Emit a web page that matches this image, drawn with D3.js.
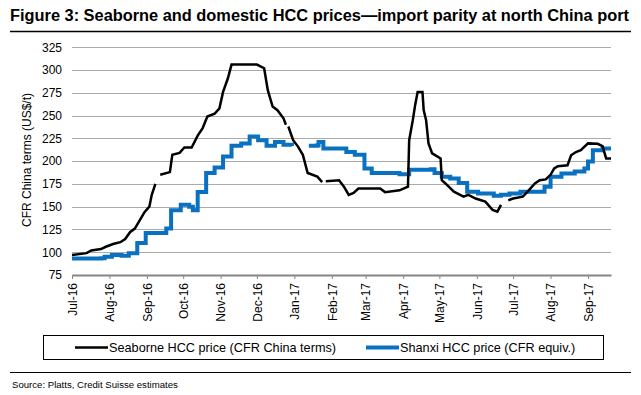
<!DOCTYPE html>
<html>
<head>
<meta charset="utf-8">
<script src="https://cdn.jsdelivr.net/npm/d3@7"></script>
<style>
  body { margin: 0; background: #fff; }
  text { font-family: "Liberation Sans", Arial, sans-serif; }
</style>
</head>
<body>
<script>
// seaborne HCC price (CFR China terms), null = gap in the series
var seaborneDates = ["2016-07-01","2016-07-13","2016-07-17","2016-07-25","2016-07-29","2016-08-04","2016-08-10","2016-08-14","2016-08-18","2016-08-22","2016-08-26","2016-08-30","2016-09-03","2016-09-05","2016-09-08","2016-09-10","2016-09-12","2016-09-20","2016-09-22","2016-09-28","2016-10-02","2016-10-08","2016-10-13","2016-10-17","2016-10-21","2016-10-27","2016-10-31","2016-11-03","2016-11-07","2016-11-10","2016-11-24","2016-12-01","2016-12-07","2016-12-10","2016-12-14","2016-12-18","2016-12-23","2016-12-25","2016-12-26","2016-12-27","2016-12-31","2017-01-04","2017-01-08","2017-01-12","2017-01-20","2017-01-24","2017-01-25","2017-01-27","2017-02-07","2017-02-11","2017-02-15","2017-02-19","2017-02-23","2017-03-13","2017-03-17","2017-03-29","2017-04-05","2017-04-06","2017-04-09","2017-04-11","2017-04-13","2017-04-17","2017-04-18","2017-04-20","2017-04-22","2017-04-25","2017-05-02","2017-05-03","2017-05-06","2017-05-13","2017-05-21","2017-05-25","2017-05-31","2017-06-08","2017-06-14","2017-06-18","2017-06-21","2017-06-23","2017-06-27","2017-07-01","2017-07-09","2017-07-13","2017-07-19","2017-07-23","2017-07-28","2017-08-01","2017-08-04","2017-08-07","2017-08-15","2017-08-18","2017-08-22","2017-08-26","2017-09-01","2017-09-09","2017-09-13","2017-09-16","2017-09-20"];
var seaborneValues = [97,99,102,103.5,106,109,111,114.5,122,126,135,144,150,163,175,null,185,188,207,209,215,215,228,236,249,252,258,276,291,306,306,306,302,278,260,256,247,240,null,238,223,216,207,187,183,177,null,178,179,172,163,165,170,170,166,168,172,223,245,262,276,276,256,245,219.5,208.5,203,179,175.5,166.5,161,163,159,155.5,146.5,144.5,152,null,157,159,161,166.5,175.5,179,180,185,192,194.5,195.5,206.5,210,212,219.5,219,216.5,203,203];

// Shanxi HCC price (CFR equiv.), weekly steps
var shanxiDates = ["2016-07-01","2016-07-25","2016-07-28","2016-08-03","2016-08-11","2016-08-17","2016-08-24","2016-08-31","2016-09-15","2016-09-17","2016-09-21","2016-09-29","2016-10-06","2016-10-09","2016-10-13","2016-10-20","2016-10-27","2016-11-03","2016-11-10","2016-11-18","2016-11-25","2016-12-02","2016-12-09","2016-12-16","2016-12-23","2016-12-30","2017-01-02","2017-01-05","2017-01-11","2017-01-13","2017-01-20","2017-01-21","2017-01-25","2017-02-05","2017-02-13","2017-02-20","2017-02-28","2017-03-06","2017-03-29","2017-04-06","2017-04-24","2017-04-27","2017-05-03","2017-05-10","2017-05-17","2017-05-24","2017-06-02","2017-06-15","2017-06-21","2017-06-28","2017-07-07","2017-07-27","2017-08-01","2017-08-10","2017-08-21","2017-08-29","2017-09-01","2017-09-05","2017-09-13","2017-09-20"];
var shanxiValues = [93,93.5,95,97,96,99,110,121,121,126,146,152,150,146,166,187,193,205,217,219.5,227,223,217,221,218,216.5,null,216.5,null,217,217.5,221,214,214,210,207,192,187,185.5,190.5,191,187,183,181,176,166.5,164.5,162,163,164.5,166.5,172,183,186.5,188.5,192,199.5,212,214,214];

var yTicks = [75,100,125,150,175,200,225,250,275,300,325];

var parse = d3.timeParse("%Y-%m-%d");
var seaborne = seaborneDates.map(function(d, i){ return {date: parse(d), v: seaborneValues[i]}; });
var shanxi = shanxiDates.map(function(d, i){ return {date: parse(d), v: shanxiValues[i]}; });

var width = 641, height = 395;
var svg = d3.select("body").append("svg").attr("width", width).attr("height", height);

var x = d3.scaleTime()
    .domain([parse("2016-07-01"), parse("2017-09-20")])
    .range([72, 611]);
var y = d3.scaleLinear()
    .domain([75, 325])
    .range([275, 47.3]);

// title + rule
svg.append("text")
    .attr("x", 10).attr("y", 21)
    .attr("font-size", "16px").attr("font-weight", "bold")
    .attr("textLength", 619).attr("lengthAdjust", "spacingAndGlyphs")
    .text("Figure 3: Seaborne and domestic HCC prices\u2014import parity at north China port");
svg.append("line")
    .attr("x1", 10).attr("x2", 631).attr("y1", 31.5).attr("y2", 31.5)
    .attr("stroke", "#000").attr("stroke-width", 1.5);

// gridlines
svg.append("g").selectAll("line")
    .data(yTicks.slice(1))
    .enter().append("line")
    .attr("x1", 72).attr("x2", 611)
    .attr("y1", function(d){ return Math.round(y(d)) + 0.5; })
    .attr("y2", function(d){ return Math.round(y(d)) + 0.5; })
    .attr("stroke", "#ababab").attr("stroke-width", 1);

// y axis
var yAxis = d3.axisLeft(y).tickValues(yTicks).tickSize(0).tickPadding(10);
var gy = svg.append("g").attr("transform", "translate(72,0)").call(yAxis);
gy.select(".domain").remove();
gy.selectAll("text").attr("font-size", "12px").attr("fill", "#000")
    .style("font-family", "'Liberation Sans', Arial, sans-serif");

svg.append("text")
    .attr("transform", "translate(31,160) rotate(-90)")
    .attr("text-anchor", "middle")
    .attr("font-size", "12px")
    .text("CFR China terms (US$/t)");

// x axis
var months = d3.timeMonth.range(parse("2016-07-01"), parse("2017-09-02"));
var xAxis = d3.axisBottom(x).tickValues(months).tickFormat(d3.timeFormat("%b-%y")).tickSize(4).tickSizeOuter(0);
var gx = svg.append("g").attr("transform", "translate(0,275)").call(xAxis);
gx.select(".domain").attr("stroke", "#868686").attr("stroke-width", 2);
gx.selectAll(".tick line").attr("stroke", "#868686").attr("stroke-width", 1);
gx.selectAll("text")
    .attr("font-size", "12px").attr("fill", "#000")
    .style("font-family", "'Liberation Sans', Arial, sans-serif")
    .attr("text-anchor", "end")
    .attr("transform", "rotate(-90)")
    .attr("x", -8).attr("y", 0).attr("dy", "0.35em");

// series
var line = d3.line()
    .defined(function(d){ return d.v != null; })
    .x(function(d){ return x(d.date); })
    .y(function(d){ return y(d.v); });

svg.append("path")
    .datum(shanxi)
    .attr("d", line.curve(d3.curveStepAfter))
    .attr("fill", "none").attr("stroke", "#0a70c0").attr("stroke-width", 4);

svg.append("path")
    .datum(seaborne)
    .attr("d", line.curve(d3.curveLinear))
    .attr("fill", "none").attr("stroke", "#000").attr("stroke-width", 2.5);

// legend
var lg = svg.append("g");
lg.append("rect")
    .attr("x", 43.5).attr("y", 335.5).attr("width", 560).attr("height", 24)
    .attr("fill", "none").attr("stroke", "#000").attr("stroke-width", 1);
var legendItems = [
  {label: "Seaborne HCC price (CFR China terms)", color: "#000", w: 2.5, x: 75},
  {label: "Shanxi HCC price (CFR equiv.)", color: "#0a70c0", w: 4, x: 366}
];
legendItems.forEach(function(it){
  lg.append("line")
    .attr("x1", it.x).attr("x2", it.x + 33).attr("y1", 347.5).attr("y2", 347.5)
    .attr("stroke", it.color).attr("stroke-width", it.w);
  lg.append("text")
    .attr("x", it.x + 34).attr("y", 352)
    .attr("font-size", "12.7px")
    .text(it.label);
});

// source
svg.append("line")
    .attr("x1", 10).attr("x2", 631).attr("y1", 372.5).attr("y2", 372.5)
    .attr("stroke", "#000").attr("stroke-width", 1);
svg.append("text")
    .attr("x", 12).attr("y", 388)
    .attr("font-size", "9.6px")
    .text("Source: Platts, Credit Suisse estimates");
</script>
</body>
</html>
